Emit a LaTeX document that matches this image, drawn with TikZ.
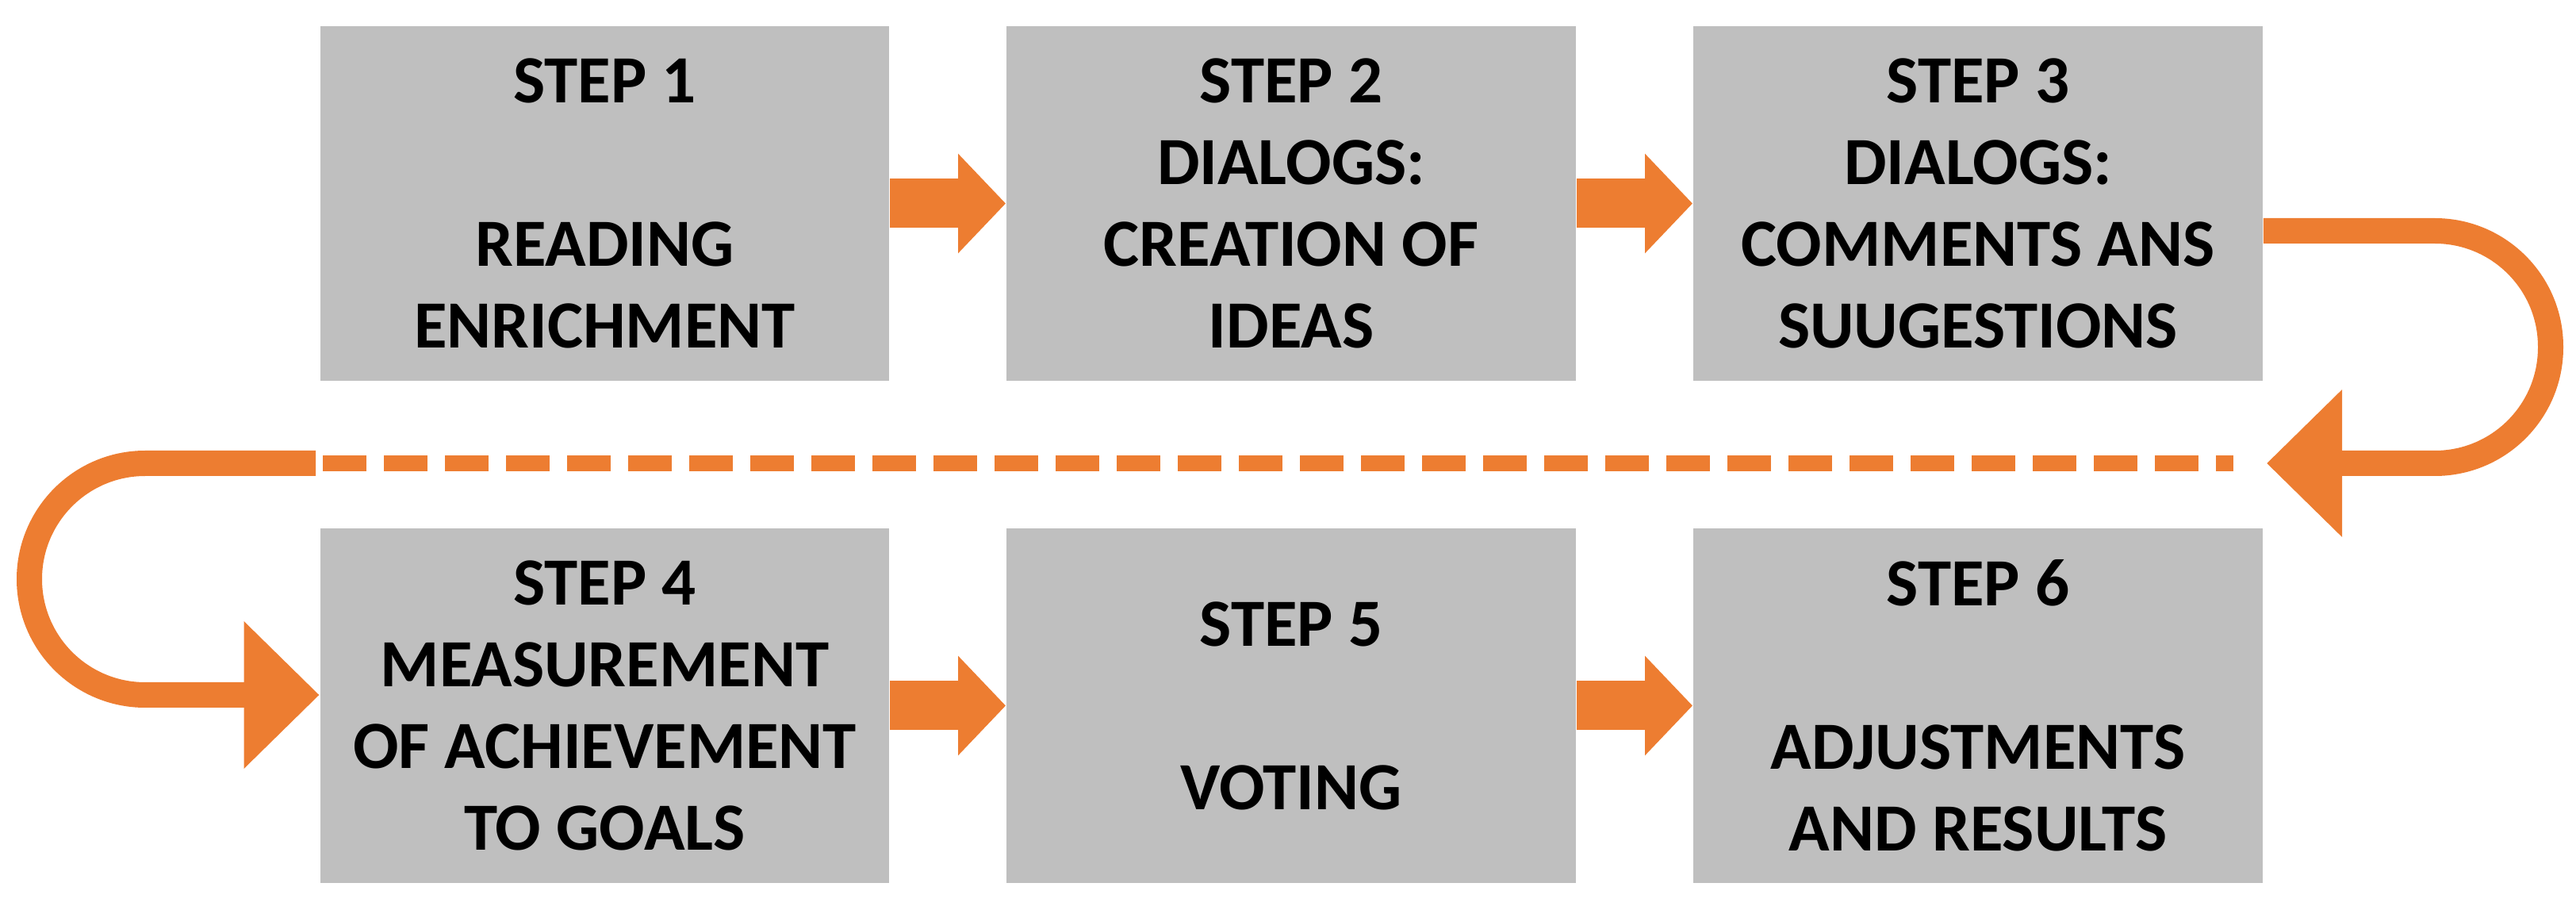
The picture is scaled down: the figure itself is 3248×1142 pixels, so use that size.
\documentclass[tikz,border=0pt]{standalone}
\usepackage{fontspec}
\setmainfont{Carlito}
\usetikzlibrary{graphs}
\usetikzlibrary{arrows.meta}

\definecolor{stepGray}{HTML}{BFBFBF}
\definecolor{stepOrange}{HTML}{ED7D31}

\tikzset{
    loop arrow/.style={draw=stepOrange, line width=1.6mm, rounded corners=7.3mm,
        -{Triangle[width=9mm, length=4.75mm]}},
    dashed row/.style={draw=stepOrange, line width=1mm, dash pattern=on 2.75mm off 1.1mm,
        shorten <=0.45mm, shorten >=2.1mm}
}

\begin{document}
\begin{tikzpicture} [x=0.05mm, y=-0.05mm, every node/.style={fill=stepGray, minimum width=35.85mm,
        minimum height=22.35mm, inner sep=0pt, align=center,
        font=\fontsize{12.1pt}{14.65pt}\selectfont\bfseries}]
            \useasboundingbox (0, 0) rectangle (3248, 1142);

            \node (s1) at (762.5, 256.5)   {STEP 1\\[14.65pt] READING\\ ENRICHMENT};
            \node (s2) at (1628, 256.5)    {STEP 2\\ DIALOGS:\\ CREATION OF\\ IDEAS};
            \node (s3) at (2494, 256.5)    {STEP 3\\ DIALOGS:\\ COMMENTS ANS\\ SUUGESTIONS};
            \node (s4) at (762.5, 889.5)   {STEP 4\\ MEASUREMENT\\ OF ACHIEVEMENT\\ TO GOALS};
            \node (s5) at (1628, 889.5)    {STEP 5\\[14.65pt] VOTING};
            \node (s6) at (2494, 889.5)    {STEP 6\\[14.65pt] ADJUSTMENTS\\ AND RESULTS};

            \coordinate (gapL) at (398, 584);
            \coordinate (gapR) at (2858, 584);

            \graph[edges={draw=stepOrange, line width=3.1mm, -{Triangle[width=6.1mm, length=3mm]}}] {
                (s1) -- (s2) -- (s3);
                (s4) -- (s5) -- (s6);
            };

            \draw[dashed row] (gapL) -- (gapR);
            \draw[loop arrow] ([yshift=-1.725mm]s3.east) -- (3216, 291) -- (3216, 584) -- (gapR);
            \draw[loop arrow] (gapL) -- (37, 584) -- (37, 876) -- ([yshift=0.675mm]s4.west);
        \end{tikzpicture}
\end{document}
